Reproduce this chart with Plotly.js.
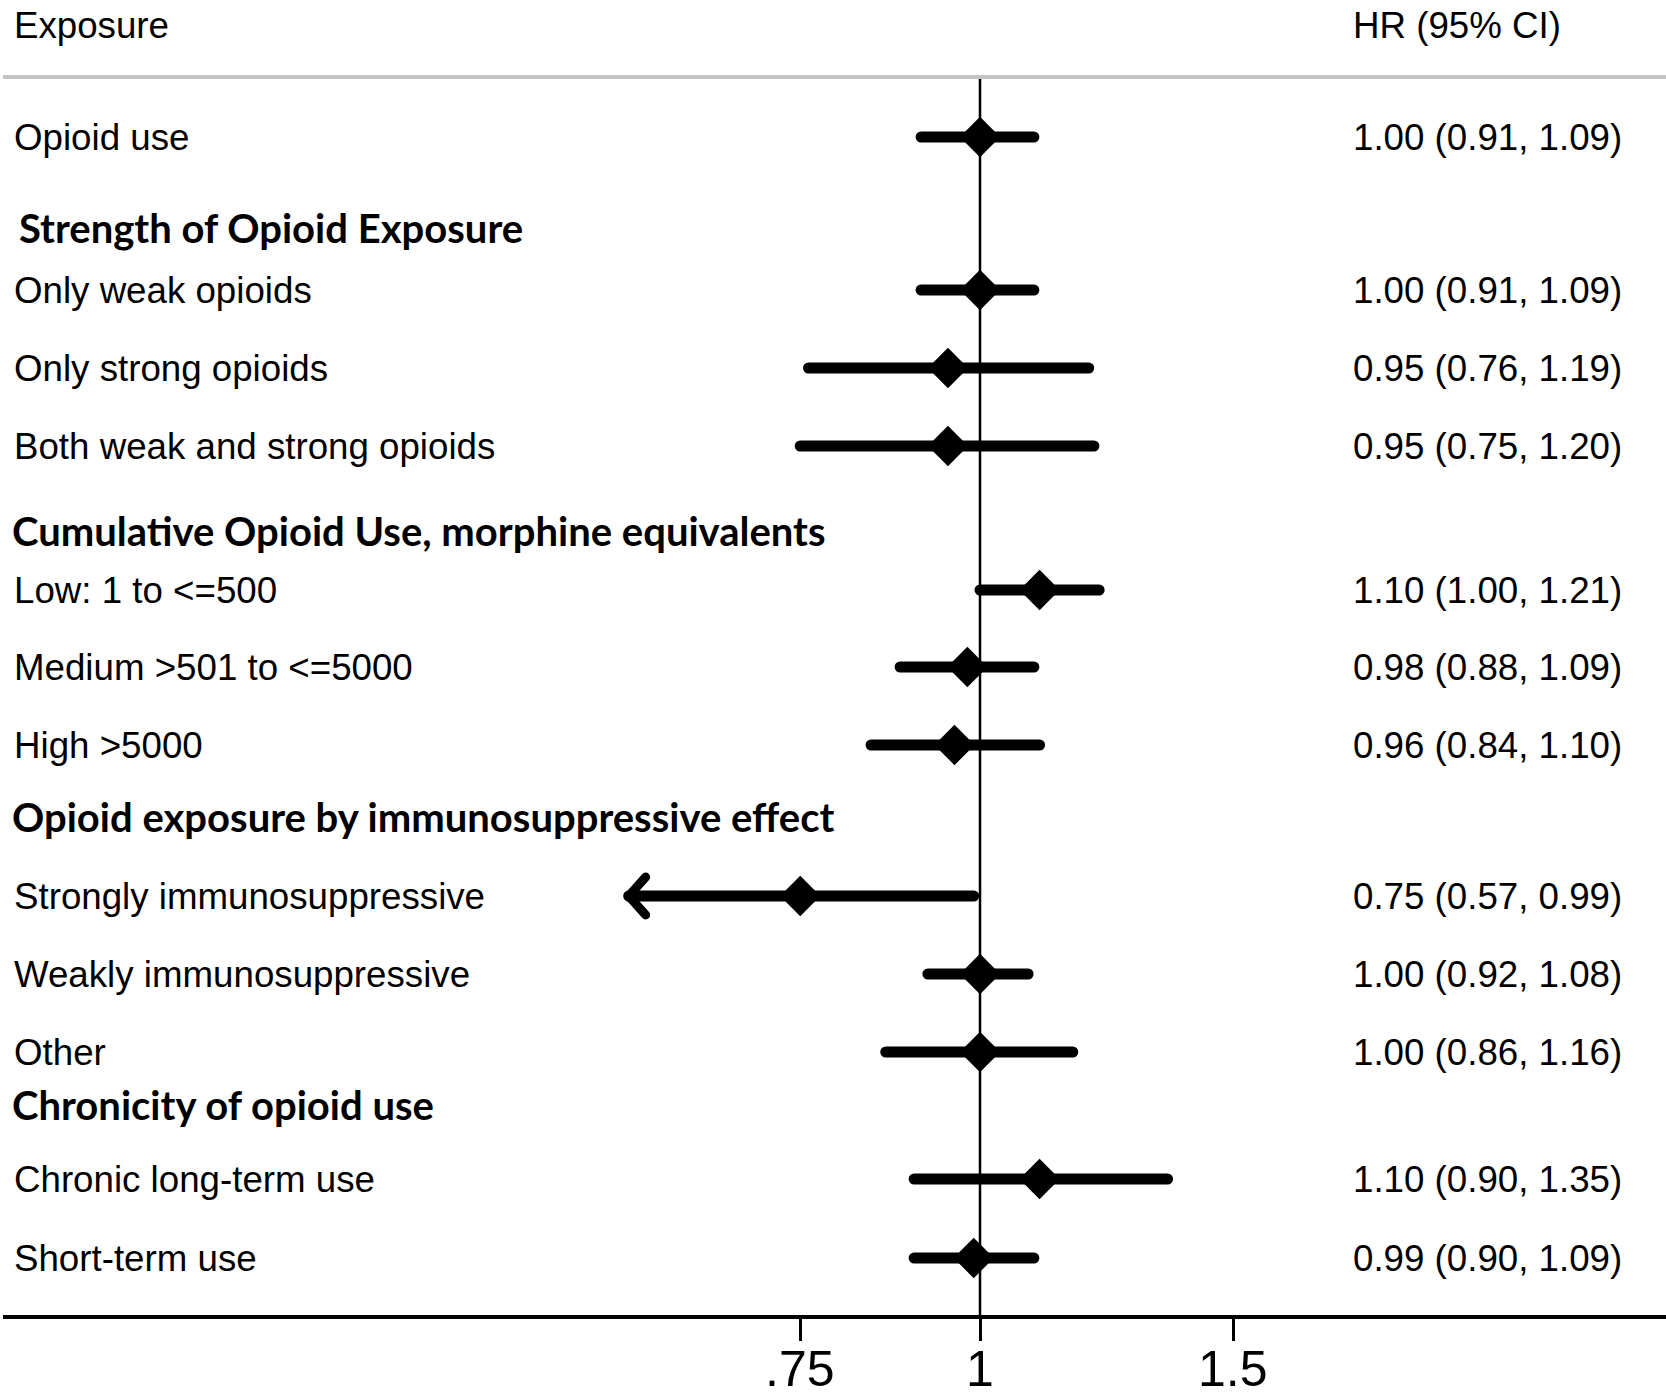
<!DOCTYPE html>
<html>
<head>
<meta charset="utf-8">
<script src="https://cdn.plot.ly/plotly-3.0.1.min.js"></script>
<style>
html,body{margin:0;padding:0;background:#fff}
#chart{width:1666px;height:1397px}
#chart .js-line{stroke-linecap:round;stroke-linejoin:round}
</style>
</head>
<body>
<div id="chart"></div>
<script>
// ---------------- data ----------------
const exposures = [
  'Opioid use',
  'Only weak opioids',
  'Only strong opioids',
  'Both weak and strong opioids',
  'Low: 1 to <=500',
  'Medium >501 to <=5000',
  'High >5000',
  'Strongly immunosuppressive',
  'Weakly immunosuppressive',
  'Other',
  'Chronic long-term use',
  'Short-term use'
];
const hr = [1.00, 1.00, 0.95, 0.95, 1.10, 0.98, 0.96, 0.75, 1.00, 1.00, 1.10, 0.99];
const lo = [0.91, 0.91, 0.76, 0.75, 1.00, 0.88, 0.84, 0.57, 0.92, 0.86, 0.90, 0.90];
const hi = [1.09, 1.09, 1.19, 1.20, 1.21, 1.09, 1.10, 0.99, 1.08, 1.16, 1.35, 1.09];
const headings = [
  'Strength of Opioid Exposure',
  'Cumulative Opioid Use, morphine equivalents',
  'Opioid exposure by immunosuppressive effect',
  'Chronicity of opioid use'
];
const tickVals = [0.75, 1, 1.5];
const tickText = ['.75', '1', '1.5'];
const refValue = 1;
const arrowRows = [7]; // rows whose lower CI is drawn with an arrow

// ---------------- layout helpers (pixel rows) ----------------
const exposureY = [137, 290, 368, 446, 590, 667, 745, 896, 974, 1052, 1179, 1258];
const headingY = [228, 531, 817, 1105];
const headingX = [19, 12, 12, 12];
const W = 1666, H = 1397;
const plotL = 3, plotR = 0, plotB = 82;
const axisY = H - plotB;   // 1315
const topRuleY = 77;
const px = v => (v - plotL) / (W - plotL - plotR); // pixel -> paper
const pyBelow = v => -(v - axisY) / axisY;          // pixel below plot -> paper

const regular = 'Liberation Sans, Arial, sans-serif';
const bold = 'Lato, Liberation Sans, sans-serif';
const fs = 36.7;

// CI segments
const ciX = [], ciY = [];
exposures.forEach((_, i) => { ciX.push(lo[i], hi[i], null); ciY.push(exposureY[i], exposureY[i], null); });

// arrow heads (chevrons) at the lower CI end
const arX = [], arY = [];
arrowRows.forEach(i => {
  const f = Math.exp(17 / 625);
  arX.push(lo[i] * f, lo[i], lo[i] * f, null);
  arY.push(exposureY[i] - 19, exposureY[i], exposureY[i] + 19, null);
});

const traces = [
  { x: [refValue, refValue], y: [topRuleY, axisY], mode: 'lines', line: { color: '#000', width: 2.5 }, hoverinfo: 'skip' },
  { x: ciX, y: ciY, mode: 'lines', line: { color: '#000', width: 11 }, hoverinfo: 'skip', connectgaps: false },
  { x: arX, y: arY, mode: 'lines', line: { color: '#000', width: 9 }, hoverinfo: 'skip', connectgaps: false },
  { x: hr, y: exposureY, mode: 'markers', marker: { symbol: 'diamond', size: 31, color: '#000', line: { width: 0 } }, hoverinfo: 'skip' }
];

const fmt = v => v.toFixed(2);
const esc = s => s.replace(/</g, '&lt;').replace(/>/g, '&gt;');
const annotations = [];
annotations.push({ xref: 'paper', yref: 'y', x: px(12), y: 25, xanchor: 'left', yanchor: 'middle', showarrow: false, text: 'Exposure', font: { family: regular, size: fs, color: '#000' } });
annotations.push({ xref: 'paper', yref: 'y', x: px(1351), y: 25, xanchor: 'left', yanchor: 'middle', showarrow: false, text: 'HR (95% CI)', font: { family: regular, size: fs, color: '#000' } });
exposures.forEach((lab, i) => {
  annotations.push({ xref: 'paper', yref: 'y', x: px(12), y: exposureY[i], xanchor: 'left', yanchor: 'middle', showarrow: false, text: esc(lab), font: { family: regular, size: fs, color: '#000' } });
  annotations.push({ xref: 'paper', yref: 'y', x: px(1351), y: exposureY[i], xanchor: 'left', yanchor: 'middle', showarrow: false, text: fmt(hr[i]) + ' (' + fmt(lo[i]) + ', ' + fmt(hi[i]) + ')', font: { family: regular, size: fs, color: '#000' } });
});
headings.forEach((h, i) => {
  annotations.push({ xref: 'paper', yref: 'y', x: px(headingX[i] - 2), y: headingY[i], xanchor: 'left', yanchor: 'middle', showarrow: false, text: '<b>' + h + '</b>', font: { family: bold, size: 40, color: '#000' } });
});
// x tick labels (placed as annotations so they sit like the reference)
tickVals.forEach((v, i) => {
  annotations.push({ xref: 'x', yref: 'paper', x: Math.log10(v), y: pyBelow(1369), xanchor: 'center', yanchor: 'middle', showarrow: false, borderpad: 0, text: tickText[i], font: { family: regular, size: 50, color: '#000' } });
});

const layout = {
  width: W, height: H,
  margin: { l: plotL, r: plotR, t: 0, b: plotB, autoexpand: false },
  paper_bgcolor: '#fff', plot_bgcolor: '#fff',
  showlegend: false,
  xaxis: {
    type: 'log',
    range: [(plotL - 980) / 1439, (W - plotR - 980) / 1439],
    tickvals: tickVals, ticktext: tickText, showticklabels: false,
    ticks: 'outside', ticklen: 22, tickwidth: 3, tickcolor: '#000',
    showline: true, linewidth: 3.5, linecolor: '#000',
    showgrid: false, zeroline: false,
    fixedrange: true
  },
  yaxis: {
    range: [axisY, 0], autorange: false,
    showgrid: false, zeroline: false, showline: false, showticklabels: false, ticks: '',
    fixedrange: true
  },
  shapes: [
    { type: 'line', xref: 'paper', yref: 'y', x0: 0, x1: 1, y0: topRuleY, y1: topRuleY, line: { color: '#c3c3c3', width: 4 } }
  ],
  annotations: annotations
};

Plotly.newPlot('chart', traces, layout, { displayModeBar: false, staticPlot: true });
</script>
</body>
</html>
